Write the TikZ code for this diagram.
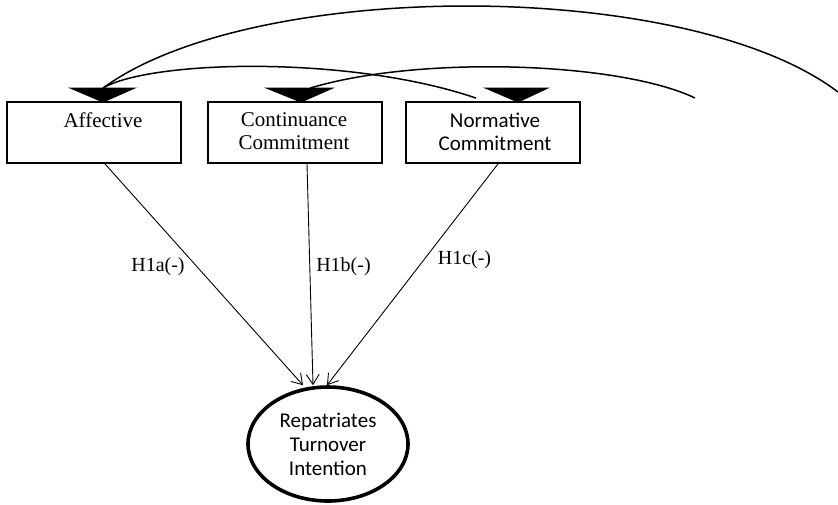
\documentclass[tikz,border=0pt]{standalone}
\usepackage{fontspec}
\setmainfont{Liberation Serif}
\newfontfamily\carlito{Carlito}
\usetikzlibrary{arrows.meta,calc,shapes.geometric}

\begin{document}
\begin{tikzpicture}[x=1pt,y=-1pt,
  construct/.style={draw, line width=1.8pt, minimum width=174pt, minimum height=61pt, inner sep=0pt},
  serifname/.style={font=\fontsize{21}{23}\selectfont, align=center, inner sep=0pt},
  sansname/.style={font=\carlito\fontsize{21}{23}\selectfont, align=center, inner sep=0pt},
  outcome/.style={draw, ellipse, line width=3.6pt, minimum width=160pt, minimum height=114pt,
    inner sep=0pt, font=\carlito\fontsize{21}{24}\selectfont, align=center},
  hypo/.style={line width=0.9pt, -{Straight Barb[length=10pt,width=13pt]}},
  hlabel/.style={font=\fontsize{20}{22}\selectfont, inner sep=0pt},
  covar/.style={line width=1.5pt},
  headfill/.style={fill=black},
]
\useasboundingbox (0,0) rectangle (838,504);

% the three commitment constructs
\node[construct] (aff)  at (94,132.5)  {};
\node[construct] (cont) at (295,132.5) {};
\node[construct] (norm) at (493,132.5) {};
\node[serifname] (affT) at (103,120) {Affective};
\node[serifname] (contT) at (294,131.5) {Continuance\\Commitment};
\node[sansname]  (normT) at (495,131.5) {Normative\\Commitment};

% outcome construct
\node[outcome] (turn) at (328,444) {Repatriates\\Turnover\\Intention};

% anchor points of the covariance curves
\coordinate (affTop)  at ($(aff.north)+(9,-13)$);
\coordinate (contTop) at ($(cont.north)+(15,-13)$);
\coordinate (normIn)  at ($(norm.north west)+(71,-3)$);
\coordinate (edgeR)   at (838,92);
\coordinate (freeEnd) at (695,98);

% covariance curves
\draw[covar] (affTop) .. controls (253,-22) and (688,-22) .. (edgeR);
\draw[covar] (normIn) .. controls (350,55) and (150,60) .. (affTop);
\draw[covar] (contTop) .. controls (420,55) and (620,62) .. (freeEnd);

% solid arrowheads on top of the boxes
\fill[headfill] ($(aff.north)+(9,1.5)$)  -- ++(-35,-15) -- ++(69,0) -- cycle;
\fill[headfill] ($(cont.north)+(6,1.5)$) -- ++(-37,-15) -- ++(71,0) -- cycle;
\fill[headfill] ($(norm.north)+(25,1.5)$) -- ++(-35,-15) -- ++(67,0) -- cycle;

% hypothesised paths
\draw[hypo] ($(aff.south)+(11,0)$)  -- ($(turn.north)+(-25,0)$);
\draw[hypo] ($(cont.south)+(12,0)$) -- ($(turn.north)+(-15,0)$);
\draw[hypo] ($(norm.south)+(5,0)$)  -- ($(turn.north)+(-1,0)$);

\node[hlabel] (h1a) at (158,267)   {H1a(-)};
\node[hlabel] (h1b) at (343.5,267) {H1b(-)};
\node[hlabel] (h1c) at (464.5,260) {H1c(-)};
\end{tikzpicture}
\end{document}
